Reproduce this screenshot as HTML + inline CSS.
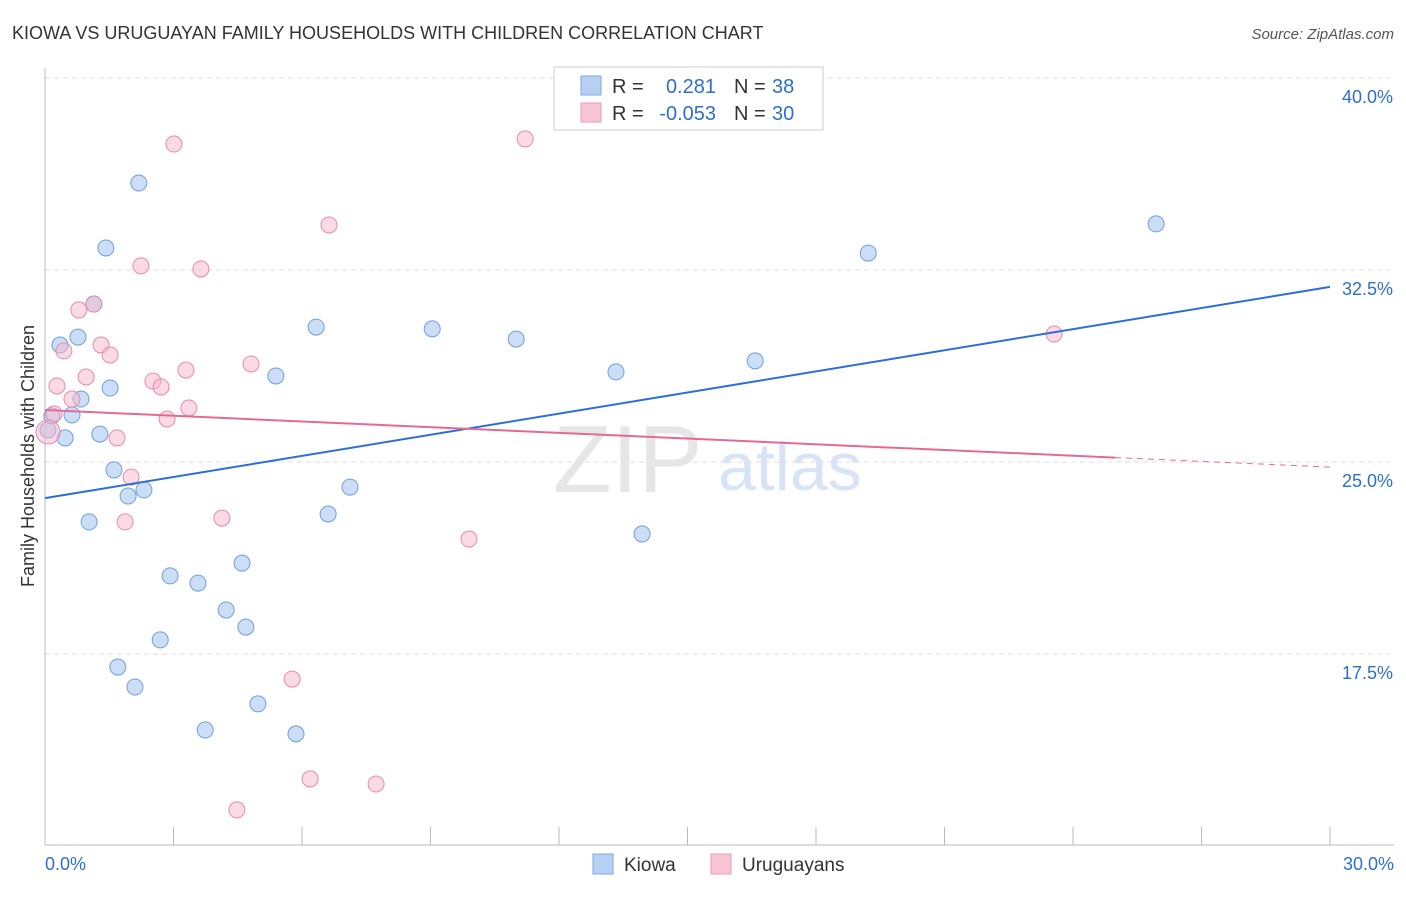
<!DOCTYPE html>
<html><head><meta charset="utf-8"><style>
body{margin:0;background:#fff;font-family:"Liberation Sans",sans-serif;}
svg text{font-family:"Liberation Sans",sans-serif;}
</style></head><body>
<svg id="c" width="1406" height="892">
<text x="12" y="39" font-size="18" fill="#333">KIOWA VS URUGUAYAN FAMILY HOUSEHOLDS WITH CHILDREN CORRELATION CHART</text>
<text x="1394" y="39" font-size="15" fill="#555" font-style="italic" text-anchor="end">Source: ZipAtlas.com</text>
<text transform="translate(34,456) rotate(-90)" font-size="18" fill="#333" text-anchor="middle">Family Households with Children</text>
<g id="grid"></g>
<text x="553" y="492" font-size="96" fill="#e6e6e6" font-family="Liberation Serif">ZIP</text>
<text x="718" y="490" font-size="68" fill="#d6e4f5">atlas</text>
<g id="pts"></g>
<g id="lines"></g>
<g>
<rect x="554" y="67" width="269" height="63" fill="#fff" stroke="#ccc"/>
<rect x="581" y="76" width="20" height="19" fill="#b5d0f3" stroke="#7fa9e2"/>
<rect x="581" y="103" width="20" height="19" fill="#f9c4d4" stroke="#ea9ab4"/>
<text x="612" y="93" font-size="20" fill="#333">R =</text>
<text x="716" y="93" font-size="20" fill="#2d6fd0" text-anchor="end">0.281</text>
<text x="734" y="93" font-size="20" fill="#333">N =</text>
<text x="772" y="93" font-size="20" fill="#2d6fd0">38</text>
<text x="612" y="120" font-size="20" fill="#333">R =</text>
<text x="716" y="120" font-size="20" fill="#2d6fd0" text-anchor="end">-0.053</text>
<text x="734" y="120" font-size="20" fill="#333">N =</text>
<text x="772" y="120" font-size="20" fill="#2d6fd0">30</text>
</g>
<g>
<rect x="593" y="854" width="20" height="20" fill="#b5d0f3" stroke="#7fa9e2"/>
<text x="624" y="871" font-size="19" fill="#333">Kiowa</text>
<rect x="711" y="854" width="20" height="20" fill="#f9c4d4" stroke="#ea9ab4"/>
<text x="742" y="871" font-size="19" fill="#333">Uruguayans</text>
</g>
</svg>
<script>
const yTicks=[40,32.5,25,17.5];
const yTickLabels=["40.0%","32.5%","25.0%","17.5%"];
const xTickLabels=["0.0%","30.0%"];
const kiowaX=[2.19,1.42,1.14,0.35,0.77,6.33,9.04,11.00,1.52,0.84,0.63,0.47,1.28,0.07,5.39,13.33,16.58,19.22,25.94,1.61,1.94,2.31,1.03,7.12,6.61,13.94,2.92,3.57,4.60,4.23,2.69,4.69,1.70,2.10,4.97,3.74,5.86,0.16];
const kiowaY=[35.90,33.36,31.17,29.57,29.88,30.27,30.20,29.80,27.89,27.46,26.84,25.94,26.09,26.25,28.36,28.52,28.95,33.16,34.30,24.69,23.67,23.91,22.66,24.02,22.97,22.19,20.55,20.27,21.05,19.22,18.05,18.55,16.99,16.21,15.55,14.53,14.38,26.80];
const uruX=[3.01,11.21,6.63,2.24,3.64,1.14,0.79,0.44,1.31,1.52,0.28,0.96,2.52,2.71,3.29,4.81,0.63,3.36,2.85,0.21,1.68,2.01,1.87,4.13,9.90,23.56,5.77,6.19,7.73,4.48,0.07];
const uruY=[37.42,37.62,34.26,32.66,32.54,31.17,30.94,29.34,29.57,29.18,27.97,28.32,28.16,27.93,28.59,28.83,27.46,27.11,26.68,26.88,25.94,24.41,22.66,22.81,21.99,30.00,16.52,12.62,12.42,11.41,26.17];
const kiowaTrend=[23.59,31.84];
const uruTrend=[27.03,24.80];
const uruSolidEnd=24.98;
const NS="http://www.w3.org/2000/svg";
const X=v=>45+v*1285/30, Y=v=>78+(40-v)*25.6;
function mk(p,t,a){const e=document.createElementNS(NS,t);for(const k in a)e.setAttribute(k,a[k]);document.getElementById(p).appendChild(e);return e;}
yTicks.forEach((t,i)=>{
 const l=mk('grid','line',{x1:45,x2:1394,y1:Y(t),y2:Y(t),stroke:'#ddd','stroke-dasharray':'5,4'});
 
 
 const tx=mk('grid','text',{x:1393,y:Y(t)+25,'font-size':18,fill:'#2d6fd0','text-anchor':'end'});tx.textContent=yTickLabels[i];
 
 
});
const ax=mk('grid','line',{x1:45,x2:1394,y1:845,y2:845,stroke:'#bbb'});


const ay=mk('grid','line',{x1:45,x2:45,y1:68,y2:845,stroke:'#bbb'});


for(let i=1;i<=10;i++){const t=mk('grid','line',{x1:X(i*3),x2:X(i*3),y1:827,y2:845,stroke:'#bbb'});
 
 }
[[0,'start',45],[30,'end',1394]].forEach((d,i)=>{const t=mk('grid','text',{x:d[2],y:870,'font-size':18,fill:'#2d6fd0','text-anchor':d[1]});t.textContent=xTickLabels[i];
 
 });
kiowaX.forEach((v,i)=>{const c=mk('pts','circle',{cx:X(v),cy:Y(kiowaY[i]),r:8,fill:'rgba(169,200,239,0.6)',stroke:'#6d9fe0','stroke-width':1});
 
 });
uruX.forEach((v,i)=>{const c=mk('pts','circle',{cx:X(v),cy:Y(uruY[i]),r:i==uruX.length-1?12:8,fill:'rgba(245,184,203,0.5)',stroke:'#e88aa8','stroke-width':1});
 
 });
const bl=mk('lines','line',{x1:X(0),y1:Y(kiowaTrend[0]),x2:X(30),y2:Y(kiowaTrend[1]),stroke:'#2a6fd6','stroke-width':2});


const ue=uruTrend[0]+(uruTrend[1]-uruTrend[0])*uruSolidEnd/30;
const pl=mk('lines','line',{x1:X(0),y1:Y(uruTrend[0]),x2:X(uruSolidEnd),y2:Y(ue),stroke:'#e46a93','stroke-width':2});


const pd=mk('lines','line',{x1:X(uruSolidEnd),y1:Y(ue),x2:X(30),y2:Y(uruTrend[1]),stroke:'#e46a93','stroke-width':1,'stroke-dasharray':'6,5'});


</script>
</body></html>
